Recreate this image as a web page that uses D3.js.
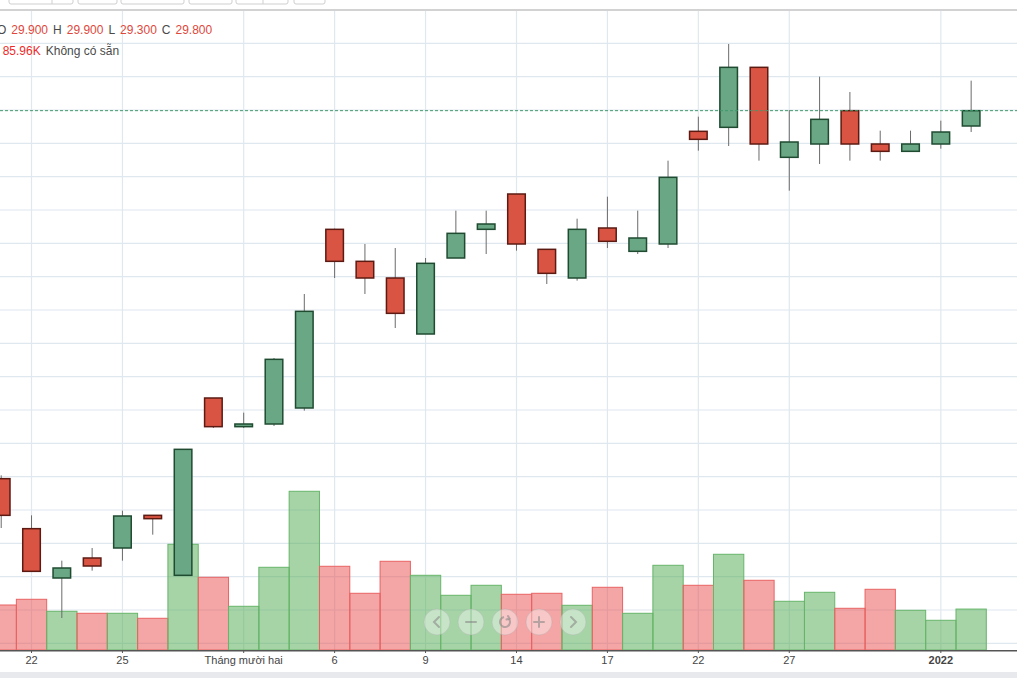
<!DOCTYPE html>
<html>
<head>
<meta charset="utf-8">
<script src="https://cdn.jsdelivr.net/npm/d3@7"></script>
<style>
  body { margin: 0; background: #fff; overflow: hidden; }
  svg { display: block; font-family: Arial, "Liberation Sans", sans-serif; }
</style>
</head>
<body>
<div id="chart"></div>
<script>
// Handelstage (Kerzen von links nach rechts)
const dates = [
  '2021-11-19', '2021-11-22', '2021-11-23', '2021-11-24', '2021-11-25', '2021-11-26',
  '2021-11-29', '2021-11-30', '2021-12-01', '2021-12-02', '2021-12-03', '2021-12-06',
  '2021-12-07', '2021-12-08', '2021-12-09', '2021-12-10', '2021-12-13', '2021-12-14',
  '2021-12-15', '2021-12-16', '2021-12-17', '2021-12-20', '2021-12-21', '2021-12-22',
  '2021-12-23', '2021-12-24', '2021-12-27', '2021-12-28', '2021-12-29', '2021-12-30',
  '2021-12-31', '2022-01-03', '2022-01-04'
];

// Kurse (in Tausend)
const opens  = [24.47, 23.72, 22.98, 23.28, 23.43, 23.92, 23.02, 25.68, 25.25, 25.29, 25.53, 28.21,
                27.73, 27.48, 26.64, 27.78, 28.21, 28.74, 27.91, 27.48, 28.23, 27.88, 27.99, 29.68,
                29.74, 30.64, 29.29, 29.49, 29.99, 29.49, 29.38, 29.49, 29.76];
const highs  = [24.52, 23.92, 23.24, 23.43, 23.99, 23.92, 24.91, 25.68, 25.46, 26.28, 27.24, 28.22,
                27.99, 27.93, 27.78, 28.49, 28.49, 28.74, 27.91, 28.37, 28.70, 28.49, 29.24, 29.90,
                30.99, 30.64, 30.00, 30.50, 30.27, 29.69, 29.69, 29.84, 30.44];
const lows   = [23.73, 23.08, 22.38, 23.09, 23.24, 23.63, 23.02, 25.23, 25.23, 25.26, 25.49, 27.48,
                27.24, 26.73, 26.64, 27.78, 27.84, 27.89, 27.39, 27.44, 27.93, 27.84, 27.93, 29.39,
                29.46, 29.24, 28.79, 29.19, 29.24, 29.24, 29.38, 29.42, 29.67];
const closes = [23.92, 23.08, 23.13, 23.16, 23.91, 23.87, 24.91, 25.25, 25.29, 26.26, 26.98, 27.73,
                27.48, 26.95, 27.70, 28.15, 28.29, 27.99, 27.55, 28.21, 28.03, 28.08, 28.99, 29.56,
                30.64, 29.49, 29.52, 29.86, 29.49, 29.38, 29.49, 29.67, 29.99];

// Volumen (in K)
const volumes = [94.5, 106.5, 81.3, 77.1, 77.1, 66.6, 222.0, 152.7, 91.8, 173.7, 333.3, 175.8,
                 119.1, 186.3, 156.9, 114.9, 135.9, 117.0, 119.1, 93.9, 131.7, 77.1, 177.9, 135.9,
                 201.0, 146.4, 102.3, 121.2, 87.6, 127.5, 83.4, 62.4, 85.96];

// Achsenbeschriftungen
const tickDates  = ['2021-11-22', '2021-11-25', '2021-12-01', '2021-12-06', '2021-12-09',
                    '2021-12-14', '2021-12-17', '2021-12-22', '2021-12-27', '2022-01-03'];
const tickLabels = ['22', '25', 'Tháng mười hai', '6', '9', '14', '17', '22', '27', '2022'];

// Legende oben links
const legendKeys   = ['O', 'H', 'L', 'C'];
const legendValues = ['29.900', '29.900', '29.300', '29.800'];
const volumeLegend = '85.96K';
const volumeNote   = 'Không có sẵn';

const data = dates.map((d, i) => ({
  date: d, open: opens[i], high: highs[i], low: lows[i], close: closes[i], volume: volumes[i]
}));

createCandleChart('#chart', data);

function createCandleChart(selector, data) {
  const width = 1017, height = 678;
  const top = 10, bottom = 650;

  const svg = d3.select(selector).append('svg')
    .attr('width', width)
    .attr('height', height);

  // X-Skala: ein Band pro Handelstag
  const x = d3.scaleBand()
    .domain(data.map(d => d.date))
    .range([-13.95, 986.3])
    .padding(0);
  const bw = x.bandwidth();
  const cx = d => x(d) + bw / 2;

  // Preis- und Volumenskala
  const y = d3.scaleLinear().domain([21.9, 31.5]).range([bottom, top]);
  const yVol = d3.scaleLinear().domain([0, 420]).range([bottom, 450]);

  // Gitternetz
  const grid = svg.append('g');
  grid.selectAll('.hgrid')
    .data(y.ticks(20).filter(t => y(t) > top + 1))
    .enter().append('line')
    .attr('x1', 0).attr('x2', width)
    .attr('y1', d => y(d)).attr('y2', d => y(d))
    .attr('stroke', '#e0e8ef').attr('stroke-width', 1.2);
  grid.selectAll('.vgrid')
    .data(tickDates)
    .enter().append('line')
    .attr('x1', d => cx(d)).attr('x2', d => cx(d))
    .attr('y1', top).attr('y2', bottom)
    .attr('stroke', '#e0e8ef').attr('stroke-width', 1.2);

  // Volumenbalken
  const up = d => d.close >= d.open;
  svg.append('g').selectAll('rect')
    .data(data)
    .enter().append('rect')
    .attr('x', d => x(d.date))
    .attr('width', bw)
    .attr('y', d => yVol(d.volume))
    .attr('height', d => bottom - yVol(d.volume))
    .attr('fill', d => up(d) ? 'rgba(77,170,80,0.5)' : 'rgba(233,76,76,0.5)')
    .attr('stroke', d => up(d) ? '#67b56a' : '#e86464')
    .attr('stroke-width', 1);

  // Kerzen: Dochte
  const candles = svg.append('g');
  candles.selectAll('.wick')
    .data(data)
    .enter().append('line')
    .attr('x1', d => cx(d.date)).attr('x2', d => cx(d.date))
    .attr('y1', d => y(d.high)).attr('y2', d => y(d.low))
    .attr('stroke', '#6b6b6b').attr('stroke-width', 1);

  // Kerzen: Körper
  const bodyW = bw * 0.58;
  candles.selectAll('.body')
    .data(data)
    .enter().append('rect')
    .attr('x', d => cx(d.date) - bodyW / 2)
    .attr('width', bodyW)
    .attr('y', d => y(Math.max(d.open, d.close)))
    .attr('height', d => Math.max(1.5, Math.abs(y(d.open) - y(d.close))))
    .attr('fill', d => up(d) ? '#6aa784' : '#d95442')
    .attr('stroke', d => up(d) ? '#1f4b31' : '#5c1a12')
    .attr('stroke-width', 1.5);

  // Linie des letzten Kurses
  const last = data[data.length - 1];
  svg.append('line')
    .attr('x1', 0).attr('x2', width)
    .attr('y1', y(last.close)).attr('y2', y(last.close))
    .attr('stroke', '#3f9a6c').attr('stroke-width', 1)
    .attr('stroke-dasharray', '3,2');

  // X-Achse
  const axis = svg.append('g')
    .attr('transform', `translate(0,${bottom})`)
    .call(d3.axisBottom(x)
      .tickValues(tickDates)
      .tickFormat((d, i) => tickLabels[i])
      .tickSize(3));
  axis.select('.domain').remove();
  axis.selectAll('line').attr('stroke', '#555');
  axis.selectAll('text')
    .attr('fill', '#444')
    .style('font-size', '11px')
    .style('font-weight', (d, i) => tickLabels[i] === '2022' ? 'bold' : 'normal');
  svg.append('line')
    .attr('x1', 0).attr('x2', width)
    .attr('y1', bottom + 0.75).attr('y2', bottom + 0.75)
    .attr('stroke', '#555').attr('stroke-width', 1.5);

  // Grauer Streifen unten
  svg.append('rect')
    .attr('x', 0).attr('y', 672).attr('width', width).attr('height', 6)
    .attr('fill', '#e7e9ec');

  drawToolbar(svg, width);
  drawNavButtons(svg);
  drawLegend(svg);
}

// Werkzeugleiste oben (nur angeschnitten sichtbar)
function drawToolbar(svg, width) {
  const boxes = [[9, 73, 52], [78, 117], [121, 184], [189, 232], [236, 288, 263], [294, 325]];
  const tb = svg.append('g');
  boxes.forEach(b => {
    tb.append('rect')
      .attr('x', b[0]).attr('y', -6).attr('width', b[1] - b[0]).attr('height', 10)
      .attr('rx', 2)
      .attr('fill', '#fff').attr('stroke', '#cfcfcf');
    if (b[2]) {
      tb.append('line')
        .attr('x1', b[2]).attr('x2', b[2]).attr('y1', 0).attr('y2', 4)
        .attr('stroke', '#cfcfcf');
    }
  });
  tb.append('line')
    .attr('x1', 0).attr('x2', width).attr('y1', 10).attr('y2', 10)
    .attr('stroke', '#d2d2d2').attr('stroke-width', 2);
}

// Navigationsknöpfe über dem Volumen
function drawNavButtons(svg) {
  const icons = ['prev', 'minus', 'reset', 'plus', 'next'];
  const nav = svg.append('g').attr('transform', 'translate(437,622)');
  icons.forEach((ic, i) => {
    const g = nav.append('g').attr('transform', `translate(${i * 34},0)`);
    g.append('circle')
      .attr('r', 13)
      .attr('fill', 'rgba(255,255,255,0.38)')
      .attr('stroke', 'rgba(170,170,170,0.35)')
      .attr('stroke-width', 1);
    const ink = g.append('g')
      .attr('fill', 'none')
      .attr('stroke', 'rgba(130,130,130,0.55)')
      .attr('stroke-width', 2)
      .attr('stroke-linecap', 'round');
    if (ic === 'prev') ink.append('path').attr('d', 'M2,-5 L-3,0 L2,5');
    if (ic === 'next') ink.append('path').attr('d', 'M-2,-5 L3,0 L-2,5');
    if (ic === 'minus') ink.append('path').attr('d', 'M-5,0 L5,0');
    if (ic === 'plus') ink.append('path').attr('d', 'M-5,0 L5,0 M0,-5 L0,5');
    if (ic === 'reset') {
      const arc = d3.arc().innerRadius(5).outerRadius(5).startAngle(0.9).endAngle(2 * Math.PI - 0.2);
      ink.append('path').attr('d', arc());
      ink.append('path').attr('d', 'M3,-6 L4.5,-3.5 L1.5,-2.5');
    }
  });
}

// Legende mit OHLC und Volumen
function drawLegend(svg) {
  const line1 = svg.append('text')
    .attr('x', -3).attr('y', 34)
    .style('font-size', '12px');
  legendKeys.forEach((k, i) => {
    line1.append('tspan').attr('dx', i === 0 ? 0 : 5).attr('fill', '#4a4a4a').text(k);
    line1.append('tspan').attr('dx', 5).attr('fill', '#e0473b').text(legendValues[i]);
  });

  const line2 = svg.append('text')
    .attr('x', 2.7).attr('y', 55)
    .style('font-size', '12px');
  line2.append('tspan').attr('fill', '#ee2a2a').text(volumeLegend);
  line2.append('tspan').attr('dx', 5).attr('fill', '#4a4a4a').text(volumeNote);
}
</script>
</body>
</html>
